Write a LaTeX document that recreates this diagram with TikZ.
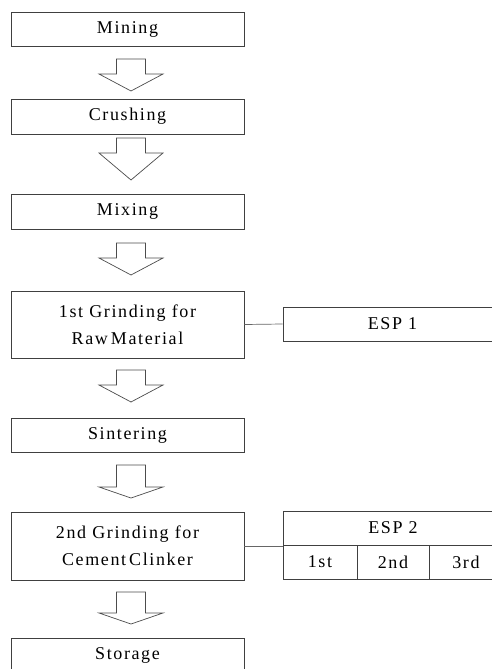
\documentclass[tikz,border=0pt]{standalone}
\usepackage{fontspec}
\setmainfont{Liberation Serif}[LetterSpace=9]
\begin{document}
\begin{tikzpicture}[x=1pt,y=-1pt,
  box/.style={draw=black!75, line width=0.8pt, rectangle, inner sep=0pt, minimum width=233pt,
    font=\fontsize{18}{25}\selectfont, align=center},
  esp/.style={draw=black!75, line width=0.8pt, rectangle, inner sep=0pt,
    font=\fontsize{18}{25}\selectfont},
  link/.style={draw=black!60, line width=0.7pt},
  blk/.style={draw=black!70, line width=0.7pt, fill=white, line join=miter}]
\useasboundingbox (0,0) rectangle (492,669);
\clip (0,0) rectangle (492,669);
\newcommand{\blockarrow}[3]{%
  \draw[blk] (116.5,#1) -- (145.5,#1) -- (145.5,#2) -- (163,#2) -- (131,#3) -- (99,#2) -- (116.5,#2) -- cycle;}
% process boxes
\node[box, minimum height=34pt] (mining) at (127.5,29.5) {Mining};
\node[box, minimum height=35pt] (crush) at (127.5,116.5) {Crushing};
\node[box, minimum height=35pt] (mix) at (127.5,211.5) {Mixing};
\node[box, minimum height=67pt] (g1) at (127.5,324.5) {\raisebox{2pt}{1st Grinding for}\\Raw\hspace{3pt}Material};
\node[box, minimum height=34pt] (sint) at (127.5,435) {Sintering};
\node[box, minimum height=68pt] (g2) at (127.5,546) {\raisebox{2pt}{2nd Grinding for}\\Cement\hspace{3pt}Clinker};
\node[box, minimum height=35pt] (stor) at (127.5,655.5) {Storage};
% block arrows
\blockarrow{59}{74}{91}
\blockarrow{138}{153}{180}
\blockarrow{243}{258}{275}
\blockarrow{370}{385}{402}
\blockarrow{465}{487}{498}
\blockarrow{592}{613}{624}
% ESP 1
\node[esp, minimum width=219pt, minimum height=34pt] (esp1) at (392.5,324) {ESP 1};
\draw[link] (g1.east) -- (esp1.west);
% ESP 2
\node[esp, minimum width=220pt, minimum height=34pt] (esp2) at (393,528) {ESP 2};
\node[esp, minimum width=74pt, minimum height=34pt] (c1) at (320,562) {1st};
\node[esp, minimum width=72pt, minimum height=34pt] (c2) at (393,562) {2nd};
\node[esp, minimum width=74pt, minimum height=34pt] (c3) at (466,562) {3rd};
\draw[link] (g2.east) -- (g2.east -| esp2.west);
\end{tikzpicture}
\end{document}
